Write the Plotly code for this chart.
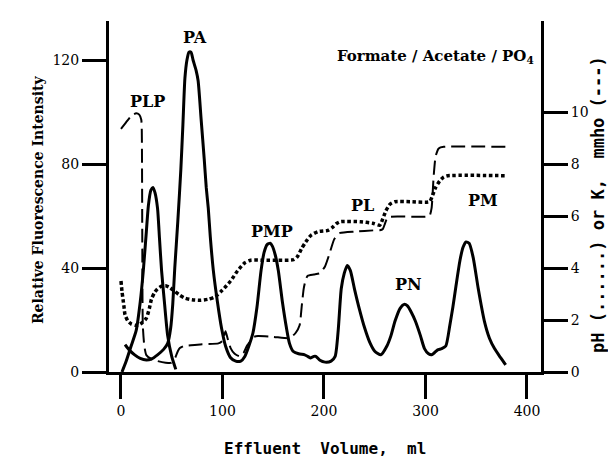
import plotly.graph_objects as go

# ---- Data ----
# Fluorescence, PLP peak (left axis)
plp_x = [1, 5, 10, 15, 19, 22, 25, 27, 29.5, 31.5, 33.5, 36, 38, 40, 43, 46, 50, 54]
plp_y = [0, 4, 10, 16, 27, 39, 54, 64, 70, 71, 69, 63, 51, 39, 26, 14, 6, 1]

# Fluorescence, main trace (left axis)
fl_x = [4, 8, 13.5, 19, 25, 30, 36, 42, 46, 49, 51, 53, 56, 59, 61, 63, 65, 67, 69, 71,
        74, 76, 79, 82, 84, 86, 88, 91, 95, 99, 103, 108, 113, 118, 122, 126, 130, 134,
        138, 141, 144, 147, 149, 152, 155, 159, 163, 166, 169.5, 175, 181, 184, 187, 190,
        192, 196, 201, 207, 211, 214, 217, 220, 223, 226, 230, 235, 240, 245, 250, 256,
        262, 266, 270, 275, 279, 282, 286, 290, 295, 299, 303, 306, 309, 312, 316, 320,
        324, 327, 330, 334, 337, 340, 343, 347, 352, 358, 363, 368, 374, 379]
fl_y = [10.5, 8.5, 6.6, 5.2, 4.6, 5.0, 6.6, 8.7, 11, 17, 26, 40, 58, 78, 95, 113, 120, 123, 123, 120,
        116, 112, 97, 82, 71, 63, 52, 39, 27, 17, 10, 5.5, 4.2, 4.2, 6, 10, 15, 25,
        39, 46, 49, 49.5, 48.5, 45, 39, 27, 17, 11, 8, 7, 6.6, 6, 5.4, 6,
        6, 4.5, 3.8, 4.2, 6, 16, 32, 38, 41, 39, 32, 24, 17, 11.5, 8, 6.6,
        10, 14, 19.6, 24.5, 26, 25.5, 23, 19.6, 14, 9, 7, 6.6, 7.5, 8.5, 9, 10,
        18, 25, 33, 43, 48, 50, 49.5, 44, 32, 19.6, 13, 9, 5.5, 2.7]

# Conductivity K, mmho (right axis, dashed)
k_x = [0, 5, 9, 12, 15, 18, 20, 20.5, 21, 21.5, 23, 25, 30, 36, 44, 49, 52, 54, 56, 58,
       62, 69, 80, 96, 100, 103, 105, 108, 112, 117, 121, 124, 128, 131, 135, 150, 165,
       168, 172, 176, 178, 180, 182, 184, 190, 196, 201, 205, 207, 210, 214, 216, 230,
       250, 255, 258, 260, 262, 265, 300, 304, 306, 308, 310, 313, 318, 379]
k_y = [9.35, 9.6, 9.8, 9.9, 9.95, 9.9, 9.7, 9.3, 5, 1.8, 1.0, 0.65, 0.5, 0.42, 0.36, 0.35, 0.45, 0.6, 0.8, 0.92,
       1.0, 1.03, 1.07, 1.1, 1.2, 1.57, 1.3, 0.92, 0.7, 0.6, 0.75, 1.0, 1.2, 1.35, 1.38, 1.35, 1.3,
       1.35, 1.5, 1.8, 2.5, 3.2, 3.55, 3.7, 3.75, 3.8, 4.06, 4.5, 4.75, 5.1, 5.3, 5.35, 5.4,
       5.45, 5.45, 5.5, 5.7, 5.9, 5.97, 5.97, 6.0, 6.3, 7.5, 8.3, 8.6, 8.66, 8.66]

# pH (right axis, dotted)
ph_x = [0, 1, 2, 3, 4, 7, 10, 14, 17, 21, 25, 28, 30, 33, 36, 40, 44, 48, 53, 58, 63, 70, 78,
        86, 93, 100, 108, 115, 122, 128, 140, 155, 170, 174, 178, 182, 187, 194, 204, 208,
        212, 216, 236, 248, 255, 258, 261, 265, 270, 285, 304, 307, 310, 314, 318, 322, 379]
ph_y = [3.5, 3.1, 2.8, 2.5, 2.2, 1.95, 1.85, 1.8, 1.8, 1.9, 2.07, 2.45, 2.8, 3.05, 3.2, 3.3, 3.32, 3.25, 3.1, 2.95, 2.84, 2.78, 2.76,
        2.8, 2.9, 3.15, 3.5, 3.9, 4.2, 4.3, 4.3, 4.3, 4.32, 4.45, 4.75, 5.0, 5.25, 5.4, 5.45, 5.55,
        5.7, 5.78, 5.78, 5.72, 5.65, 5.9, 6.2, 6.45, 6.55, 6.55, 6.55, 6.8, 7.1, 7.35, 7.5, 7.55, 7.55]

x_ticks = [0, 100, 200, 300, 400]
y_ticks = [0, 40, 80, 120]
y2_ticks = [0, 2, 4, 6, 8, 10]

peak_labels = ["PA", "PLP", "PMP", "PL", "PM", "PN"]
peak_lx = [73, 26.6, 149, 238, 357, 283]
peak_ly = [128.5, 104, 54, 64, 66, 33.5]

SERIF = "DejaVu Serif"
MONO = "DejaVu Sans Mono"

fig = go.Figure()
fig.add_trace(go.Scatter(x=plp_x, y=plp_y, mode="lines",
                         line=dict(color="black", width=3, shape="spline", smoothing=0.6),
                         showlegend=False))
fig.add_trace(go.Scatter(x=fl_x, y=fl_y, mode="lines",
                         line=dict(color="black", width=3, shape="spline", smoothing=0.6),
                         showlegend=False))
fig.add_trace(go.Scatter(x=k_x, y=k_y, mode="lines", yaxis="y2",
                         line=dict(color="black", width=2, dash="14px,6px", shape="spline", smoothing=0.5),
                         showlegend=False))
fig.add_trace(go.Scatter(x=ph_x, y=ph_y, mode="lines", yaxis="y2",
                         line=dict(color="black", width=3.5, dash="3.5px,2.6px", shape="spline", smoothing=0.6),
                         showlegend=False))

axis_common = dict(showgrid=False, zeroline=False, showline=True, linecolor="black",
                   linewidth=3, ticks="outside", ticklen=24, tickwidth=3, tickcolor="black",
                   tickfont=dict(family=SERIF, size=14, color="black"))

fig.update_layout(
    width=616, height=458,
    margin=dict(l=101, r=83, t=13, b=94),
    paper_bgcolor="white", plot_bgcolor="white",
    xaxis=dict(range=[-11.8, 413.8], tickvals=x_ticks, **axis_common),
    yaxis=dict(range=[0, 135], tickvals=y_ticks, **axis_common),
    yaxis2=dict(range=[0, 13.5], tickvals=y2_ticks, overlaying="y", side="right", **axis_common),
    showlegend=False,
)

annots = []
for t, x, y in zip(peak_labels, peak_lx, peak_ly):
    annots.append(dict(x=x, y=y, xref="x", yref="y", text=t, showarrow=False,
                       font=dict(family=SERIF, size=16, color="black", weight="bold")))
annots.append(dict(x=310, y=121.5, xref="x", yref="y", text="Formate / Acetate / PO<sub>4</sub>",
                   showarrow=False, font=dict(family=SERIF, size=15, color="black", weight="bold")))
annots.append(dict(x=-0.1875, y=0.49, xref="paper", yref="paper", text="Relative Fluorescence Intensity",
                   textangle=-90, showarrow=False, font=dict(family=SERIF, size=14, color="black", weight="bold")))
annots.append(dict(x=1.16, y=0.476, xref="paper", yref="paper", text="pH (......) or K,  mmho (---)",
                   textangle=-90, showarrow=False, font=dict(family=MONO, size=17, color="black", weight="bold")))
annots.append(dict(x=0.5, y=-0.25, xref="paper", yref="paper", text="Effluent  Volume,  ml",
                   showarrow=False, font=dict(family=MONO, size=16, color="black", weight="bold")))
fig.update_layout(annotations=annots)

fig.write_html("out.html")
